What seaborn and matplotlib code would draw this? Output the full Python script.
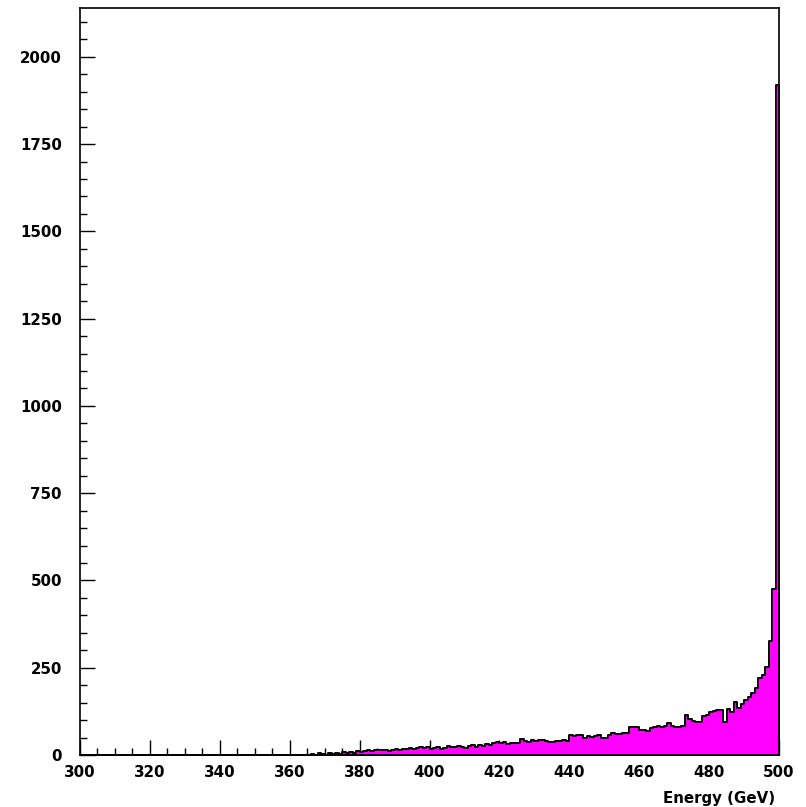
import numpy as np
import pandas as pd
import matplotlib
matplotlib.use("Agg")
import matplotlib.pyplot as plt
import seaborn as sns
from matplotlib.ticker import MultipleLocator

# Histogram: 1 GeV bins from 300 to 500 GeV
e_min = 300
e_max = 500
bin_width = 1

# counts per bin, first 66 bins (300-366) are empty
counts = [0] * 66 + [
    3, 0, 5, 3, 0, 5, 2, 6, 4, 8,            # 366-375
    5, 9, 7, 11, 10, 12, 14, 12, 14, 13,     # 376-385
    14, 13, 12, 15, 17, 14, 18, 16, 21, 17,  # 386-395
    20, 24, 19, 22, 18, 21, 23, 17, 20, 25,  # 396-405
    22, 24, 27, 23, 21, 26, 28, 24, 30, 27,  # 406-415
    32, 29, 35, 38, 33, 36, 32, 35, 34, 33,  # 416-425
    47, 41, 37, 43, 40, 42, 44, 39, 38, 36,  # 426-435
    40, 39, 42, 41, 56, 55, 58, 57, 49, 54,  # 436-445
    52, 55, 57, 48, 50, 58, 62, 60, 61, 63,  # 446-455
    62, 80, 79, 81, 72, 73, 70, 78, 80, 82,  # 456-465
    80, 83, 92, 82, 80, 81, 82, 114, 104, 96,     # 466-475
    94, 95, 113, 114, 123, 125, 129, 130, 95, 133,  # 476-485
    124, 153, 134, 145, 157, 166, 178, 193, 220, 228,  # 486-495
    252, 326, 475, 1920,                     # 496-499
]

x_label = "Energy (GeV)"

centres = np.arange(e_min, e_max, bin_width) + bin_width / 2
df = pd.DataFrame({"energy": centres, "counts": counts})

sns.set_style("white")
plt.rcParams["font.family"] = ["DejaVu Sans"]
plt.rcParams["text.color"] = "black"
plt.rcParams["xtick.color"] = "black"
plt.rcParams["ytick.color"] = "black"

fig = plt.figure(figsize=(8.06, 8.07), dpi=100)
ax = fig.add_axes([80 / 806, 1 - 755 / 807, 699 / 806, 747 / 807])

sns.histplot(data=df, x="energy", weights="counts", binwidth=bin_width,
             binrange=(e_min, e_max), element="step", fill=True,
             color="#ff00ff", edgecolor="black", alpha=1, linewidth=1.4, ax=ax)

ax.set_xlim(e_min, e_max)
ax.set_ylim(0, 2140)

# ROOT-like axes: ticks inside, only on bottom and left
ax.xaxis.set_major_locator(MultipleLocator(20))
ax.xaxis.set_minor_locator(MultipleLocator(5))
ax.yaxis.set_major_locator(MultipleLocator(250))
ax.yaxis.set_minor_locator(MultipleLocator(50))
ax.tick_params(which="both", direction="in", top=False, right=False,
               bottom=True, left=True, width=1.0, color="black",
               labelcolor="black")
ax.tick_params(which="major", length=11)
ax.tick_params(which="minor", length=5)
ax.tick_params(axis="x", which="major", pad=7, labelsize=10.8)
ax.tick_params(axis="y", which="major", pad=13, labelsize=10.8)
for lab in ax.get_xticklabels() + ax.get_yticklabels():
    lab.set_fontweight("bold")

for side in ax.spines.values():
    side.set_color("black")
    side.set_linewidth(1.2)

ax.set_ylabel("")
ax.set_xlabel(x_label, fontsize=10.8, fontweight="bold", color="black",
              ha="right", va="center")
ax.xaxis.set_label_coords((775 - 80) / 699, -(798 - 755) / 747)

fig.savefig("out.png", dpi=100)
plt.close(fig)
